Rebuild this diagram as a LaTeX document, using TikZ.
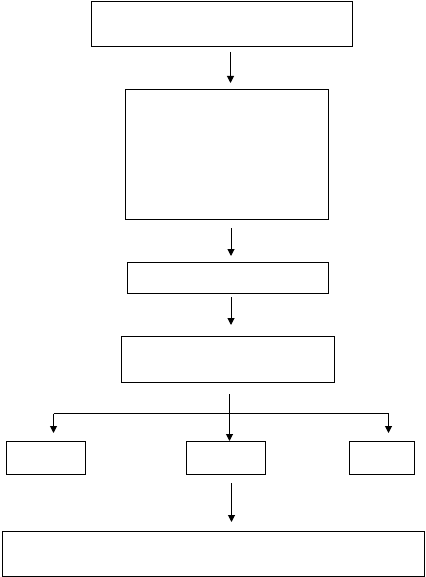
\documentclass[tikz,border=0pt]{standalone}
\usetikzlibrary{arrows.meta}
\begin{document}
\begin{tikzpicture}[x=1pt,y=-1pt,
  box/.style={draw=black,line width=1pt,anchor=north west,inner sep=0pt,outer sep=0pt},
  arr/.style={draw=black,line width=1pt,-{Triangle[width=7pt,length=7pt]}},
  ln/.style={draw=black,line width=1pt}]
\useasboundingbox (0,0) rectangle (425,577);
\node[box,minimum width=261pt,minimum height=45pt] (b1) at (91.5,1.5) {};
\node[box,minimum width=203pt,minimum height=130pt] (b2) at (125.5,89.5) {};
\node[box,minimum width=201pt,minimum height=31pt] (b3) at (127.5,262.5) {};
\node[box,minimum width=213pt,minimum height=46pt] (b4) at (121.5,336.5) {};
\node[box,minimum width=79pt,minimum height=33pt] (b5) at (6.5,441.5) {};
\node[box,minimum width=79pt,minimum height=33pt] (b6) at (186.5,441.5) {};
\node[box,minimum width=65pt,minimum height=33pt] (b7) at (349.5,441.5) {};
\node[box,minimum width=422pt,minimum height=45pt] (b8) at (2,531.5) {};
\coordinate (a1s) at (230.5,52);
\coordinate (a1e) at (230.5,83);
\coordinate (a2s) at (231,228);
\coordinate (a2e) at (231,256);
\coordinate (a3s) at (231,297);
\coordinate (a3e) at (231,325);
\coordinate (a4s) at (229.5,394);
\coordinate (a4e) at (229.5,441);
\coordinate (hl) at (53.5,413.5);
\coordinate (hr) at (388.5,413.5);
\coordinate (l5) at (53.5,433);
\coordinate (r7) at (388.5,433);
\coordinate (a5s) at (231.5,483);
\coordinate (a5e) at (231.5,522);
\draw[arr] (a1s) -- (a1e);
\draw[arr] (a2s) -- (a2e);
\draw[arr] (a3s) -- (a3e);
\draw[arr] (a4s) -- (a4e);
\draw[ln] (hl) -- (hr);
\draw[arr] (hl) -- (l5);
\draw[arr] (hr) -- (r7);
\draw[arr] (a5s) -- (a5e);
\end{tikzpicture}
\end{document}
